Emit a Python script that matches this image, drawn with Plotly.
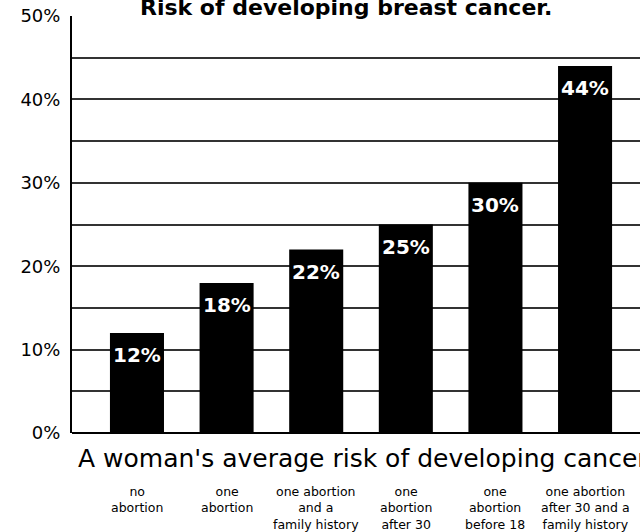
import plotly.graph_objects as go

categories = ["no<br>abortion", "one<br>abortion", "one abortion<br>and a<br>family history",
              "one<br>abortion<br>after 30", "one<br>abortion<br>before 18",
              "one abortion<br>after 30 and a<br>family history"]
risk = [12, 18, 22, 25, 30, 44]
bar_labels = ["12%", "18%", "22%", "25%", "30%", "44%"]
title_text = "Risk of developing breast cancer."
subtitle_text = "A woman's average risk of developing cancer"

xs = list(range(len(risk)))

fig = go.Figure()
fig.add_trace(go.Bar(x=xs, y=risk, width=0.603, marker=dict(color="black", line=dict(width=0)),
                     hoverinfo="skip"))

annotations = []
for x, v, t in zip(xs, risk, bar_labels):
    annotations.append(dict(x=x, y=v, xref="x", yref="y", text=t, showarrow=False,
                            yanchor="top", xanchor="center", yshift=-8,
                            font=dict(family="DejaVu Sans", size=20, color="white", weight="bold")))
for x, c in zip(xs, categories):
    annotations.append(dict(x=x, y=-0.1175, xref="x", yref="paper", text=c, showarrow=False,
                            yanchor="top", xanchor="center",
                            font=dict(family="DejaVu Sans", size=12.5, color="black")))
annotations.append(dict(x=0.482, y=1.0, xref="paper", yref="paper", text=title_text, showarrow=False,
                        yanchor="bottom", xanchor="center", yshift=-6,
                        font=dict(family="DejaVu Sans", size=22, color="black", weight="bold")))
annotations.append(dict(x=0.007, y=-0.061, xref="paper", yref="paper", text=subtitle_text,
                        showarrow=False, yanchor="middle", xanchor="left",
                        font=dict(family="DejaVu Sans", size=25, color="black")))

fig.update_layout(
    width=640, height=532,
    margin=dict(l=72, r=0, t=16, b=99),
    paper_bgcolor="white", plot_bgcolor="white",
    showlegend=False,
    annotations=annotations,
    xaxis=dict(range=[-0.725, 5.613], showticklabels=False, showgrid=False, zeroline=False,
               showline=False, fixedrange=True),
    yaxis=dict(range=[0, 50], dtick=10, tick0=0, ticksuffix="%", showgrid=True,
               gridcolor="#333333", gridwidth=2,
               minor=dict(dtick=5, showgrid=True, gridcolor="#333333", gridwidth=2),
               zeroline=True, zerolinecolor="black", zerolinewidth=2,
               showline=True, linecolor="black", linewidth=2, mirror=False,
               ticks="", ticklabelstandoff=6,
               tickfont=dict(family="DejaVu Sans", size=18, color="black"), fixedrange=True),
)

fig.write_html("out.html")
